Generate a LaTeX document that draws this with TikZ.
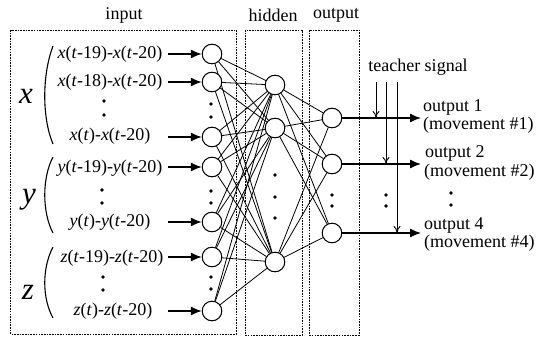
\documentclass[tikz,border=0pt]{standalone}
\usepackage{fontspec}
\setmainfont{Liberation Serif}
\newfontfamily\tms{Liberation Serif}
\usetikzlibrary{arrows.meta}
\begin{document}
\begin{tikzpicture}[x=1pt,y=-1pt,
  neuron/.style={circle,draw,line width=0.9pt,minimum size=19.5pt,inner sep=0pt,fill=white},
  layerbox/.style={draw,dash pattern=on 1.6pt off 1.1pt,line width=0.8pt},
  lbl/.style={font=\tms\fontsize{18}{20}\selectfont,inner sep=0pt},
  biglbl/.style={font=\tms\fontsize{31}{33}\selectfont\itshape,inner sep=0pt},
  inarrow/.style={line width=1.3pt,-{Latex[length=11pt,width=9pt]}},
  conn/.style={line width=0.8pt},
  teach/.style={line width=0.9pt,-{To[length=7pt,width=7pt]}},
  dotm/.style={circle,fill,inner sep=0pt,minimum size=3.6pt}
]
\useasboundingbox (0,0) rectangle (549,337);
% boxes
\draw[layerbox] (10.5,30) rectangle (236,334);
\draw[layerbox] (245,30) rectangle (302,335);
\draw[layerbox] (309,30) rectangle (359,335);
\node[lbl] (tin) at (124,15) {input};
\node[lbl] (thid) at (273,15) {hidden};
\node[lbl] (tout) at (336,15) {output};
% input neurons
\foreach \n/\y in {1/54,2/82,3/137,4/167,5/222,6/257,7/311}{
  \node[neuron] (i\n) at (212,\y) {};
  \coordinate (s\n) at (168,\y);
}
% hidden neurons
\foreach \n/\y in {1/85,2/128,3/262}{
  \node[neuron] (h\n) at (275,\y) {};
}
% output neurons
\foreach \n/\y in {1/118,2/164,3/233}{
  \node[neuron] (o\n) at (332,\y) {};
  \coordinate (e\n) at (421,\y);
}
% connections
\foreach \a in {1,...,7}{\foreach \b in {1,2,3}{\draw[conn] (i\a) -- (h\b);}}
\foreach \a in {1,2,3}{\foreach \b in {1,2,3}{\draw[conn] (h\a) -- (o\b);}}
% redraw neurons on top
\foreach \n/\y in {1/54,2/82,3/137,4/167,5/222,6/257,7/311}{\node[neuron] at (212,\y) {};}
\foreach \n/\y in {1/85,2/128,3/262}{\node[neuron] at (275,\y) {};}
\foreach \n/\y in {1/118,2/164,3/233}{\node[neuron] at (332,\y) {};}
% input arrows
\foreach \n in {1,...,7}{\draw[inarrow] (s\n) -- (i\n);}
% output arrows
\foreach \n in {1,2,3}{\draw[inarrow] (o\n) -- (e\n);}
% input labels
\node[lbl] (l1) at (110,54) {\textit{x}(\textit{t}-19)-\textit{x}(\textit{t}-20)};
\node[lbl] (l2) at (110,82) {\textit{x}(\textit{t}-18)-\textit{x}(\textit{t}-20)};
\node[lbl] (l3) at (110,136) {\textit{x}(\textit{t})-\textit{x}(\textit{t}-20)};
\node[lbl] (l4) at (110,168) {\textit{y}(\textit{t}-19)-\textit{y}(\textit{t}-20)};
\node[lbl] (l5) at (110,222) {\textit{y}(\textit{t})-\textit{y}(\textit{t}-20)};
\node[lbl] (l6) at (112,258) {\textit{z}(\textit{t}-19)-\textit{z}(\textit{t}-20)};
\node[lbl] (l7) at (113,311) {\textit{z}(\textit{t})-\textit{z}(\textit{t}-20)};
% big letters
\node[biglbl] (bx) at (26,96) {x};
\node[biglbl] (by) at (29,200) {y};
\node[biglbl] (bz) at (28,292) {z};
% parentheses
\draw[line width=1.1pt] (53,46) .. controls (42,75) and (42,118) .. (53,144);
\draw[line width=1.1pt] (53,157) .. controls (42,178) and (42,212) .. (53,233);
\draw[line width=1.1pt] (53,247) .. controls (42,268) and (42,298) .. (53,318);
% dots
\foreach \p in {(104,101),(104,115),(211,104),(211,117),
                (102,190),(102,203),(211,191),(211,203),
                (103,277),(103,290),(211,277),(211,289),
                (275,175),(275,197),(275,218),
                (332,195),(332,206),(386,195),(386,206),(451,193),(451,205)}
  {\node[dotm] at \p {};}
% teacher signal
\node[lbl] (tsig) at (418,67) {teacher signal};
\coordinate (t1a) at (376,82); \coordinate (t1b) at (376,118);
\coordinate (t2a) at (386,82); \coordinate (t2b) at (386,164);
\coordinate (t3a) at (397,82); \coordinate (t3b) at (397,233);
\draw[teach] (t1a) -- (t1b);
\draw[teach] (t2a) -- (t2b);
\draw[teach] (t3a) -- (t3b);
% output labels
\node[lbl,anchor=west] (ol1) at (423,107) {output 1};
\node[lbl,anchor=west] (om1) at (423,125) {(movement \#1)};
\node[lbl,anchor=west] (ol2) at (425,153) {output 2};
\node[lbl,anchor=west] (om2) at (424,172) {(movement \#2)};
\node[lbl,anchor=west] (ol4) at (424,225) {output 4};
\node[lbl,anchor=west] (om4) at (424,243) {(movement \#4)};
\end{tikzpicture}
\end{document}
